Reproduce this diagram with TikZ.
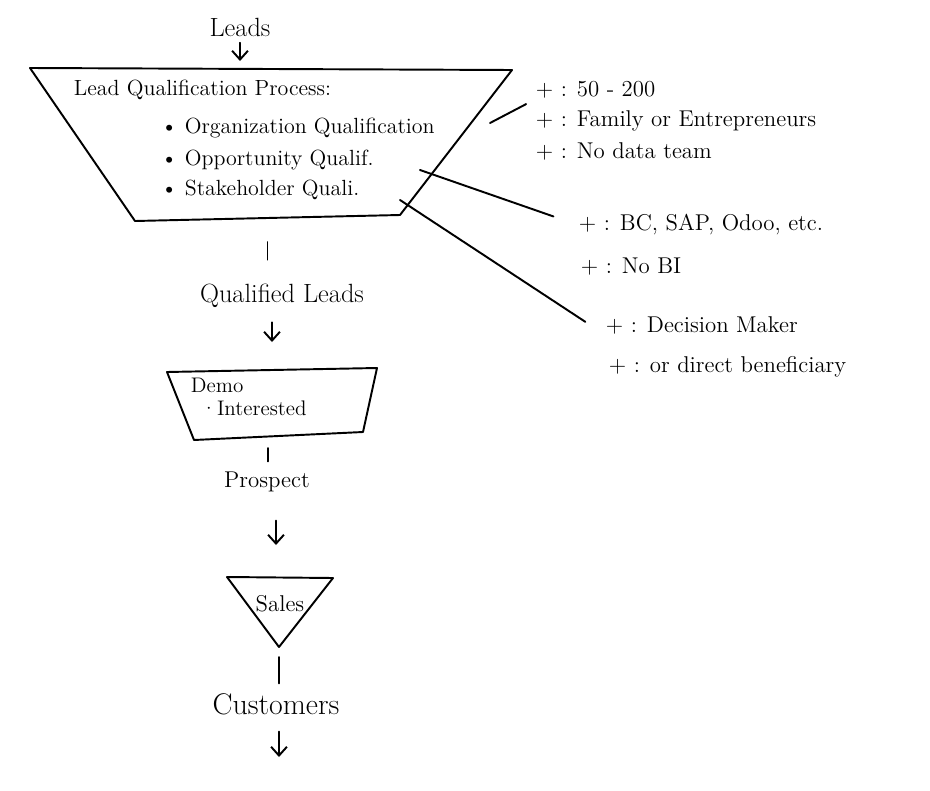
\documentclass[tikz,border=0pt]{standalone}
\usepackage{tikz}
\usetikzlibrary{arrows.meta, calc, positioning}

\begin{document}
\begin{tikzpicture}[>={Straight Barb[length=5pt, width=9pt]}, x=0.02cm, y=-0.02cm,
    line width=1.1pt, line cap=round, line join=round,
    lbl/.style={font=\fontsize{15}{18}\selectfont, inner sep=2pt},
    txt/.style={font=\fontsize{12.5}{15}\selectfont, anchor=west, inner sep=0pt},
    note/.style={font=\fontsize{13}{16}\selectfont, anchor=west, inner sep=0pt}]
  \useasboundingbox (0,0) rectangle (930,791);

  % funnel stages
  \coordinate (lqp-tl) at (30,68);
  \coordinate (lqp-tr) at (512,70);
  \coordinate (lqp-br) at (400,215);
  \coordinate (lqp-bl) at (135,221);
  \coordinate (lqp-b) at ($(lqp-bl)!0.5!(lqp-br)$);
  \draw (lqp-tl) -- (lqp-tr) -- (lqp-br) -- (lqp-bl) -- cycle;

  \coordinate (demo-tl) at (167,372);
  \coordinate (demo-tr) at (377,368);
  \coordinate (demo-br) at (363,432);
  \coordinate (demo-bl) at (194,440);
  \coordinate (demo-t) at (272,370);
  \coordinate (demo-b) at (268,436);
  \draw (demo-tl) -- (demo-tr) -- (demo-br) -- (demo-bl) -- cycle;

  \coordinate (sales-tl) at (227,577);
  \coordinate (sales-tr) at (333,578);
  \coordinate (sales-b) at (279,647);
  \coordinate (sales-t) at (276,577);
  \draw (sales-tl) -- (sales-tr) -- (sales-b) -- cycle;

  % texts in the stages
  \node[txt] (lqp-title) at (73,90) {Lead Qualification Process:};
  \node[txt] (lqp-org) at (160,128) {\textbullet\ Organization Qualification};
  \node[txt] (lqp-opp) at (160,160) {\textbullet\ Opportunity Qualif.};
  \node[txt] (lqp-stk) at (160,190) {\textbullet\ Stakeholder Quali.};
  \node[txt, font=\fontsize{12}{14}\selectfont] (demo-lbl) at (190,385) {Demo};
  \node[txt, font=\fontsize{12}{14}\selectfont] (demo-int) at (200,408) {\textperiodcentered Interested};
  \node[lbl, font=\fontsize{13}{16}\selectfont] (sales-lbl) at (280,604) {Sales};

  % flow
  \node[lbl] (leads) at (240,27) {Leads};
  \node[lbl] (qual) at (282,296) {Qualified Leads};
  \node[lbl, font=\fontsize{13}{16}\selectfont] (prospect) at (267,482) {Prospect};
  \node[lbl, font=\fontsize{17}{20}\selectfont] (cust) at (276,704) {Customers};
  \coordinate (out) at (279,757);

  \draw[->, shorten <=0.04cm, shorten >=0.14cm] (leads.south) -- (leads.south |- lqp-tl);
  \draw[shorten <=0.48cm, shorten >=0.4cm] (lqp-b) -- (lqp-b |- qual.north);
  \draw[->, shorten <=0.2cm, shorten >=0.56cm] (demo-t |- qual.south) -- (demo-t);
  \draw[shorten <=0.24cm, shorten >=0.12cm] (demo-b) -- (demo-b |- prospect.north);
  \draw[->, shorten <=0.48cm, shorten >=0.64cm] (sales-t |- prospect.south) -- (sales-t);
  \draw[shorten <=0.2cm, shorten >=0.11cm] (sales-b) -- (sales-b |- cust.north);
  \draw[->, shorten <=0.25cm] (cust.south -| out) -- (out);

  % notes
  \node[note] (n-size) at (535,90) {+ : 50 - 200};
  \node[note] (n-owner) at (535,121) {+ : Family or Entrepreneurs};
  \node[note] (n-team) at (535,151) {+ : No data team};
  \node[note] (n-erp) at (578,225) {+ : BC, SAP, Odoo, etc.};
  \node[note] (n-bi) at (580,267) {+ : No BI};
  \node[note] (n-dm) at (605,325) {+ : Decision Maker};
  \node[note] (n-ben) at (608,367) {+ : or direct beneficiary};

  \coordinate (org-pt) at (490,123);
  \coordinate (opp-pt) at (420,170);
  \coordinate (stk-pt) at (400,200);
  \draw[shorten >=0.2cm] (org-pt) -- (n-size.south west);
  \draw[shorten >=0.52cm] (opp-pt) -- (n-erp.west);
  \draw[shorten >=0.47cm] (stk-pt) -- (n-dm.south west);
\end{tikzpicture}
\end{document}
